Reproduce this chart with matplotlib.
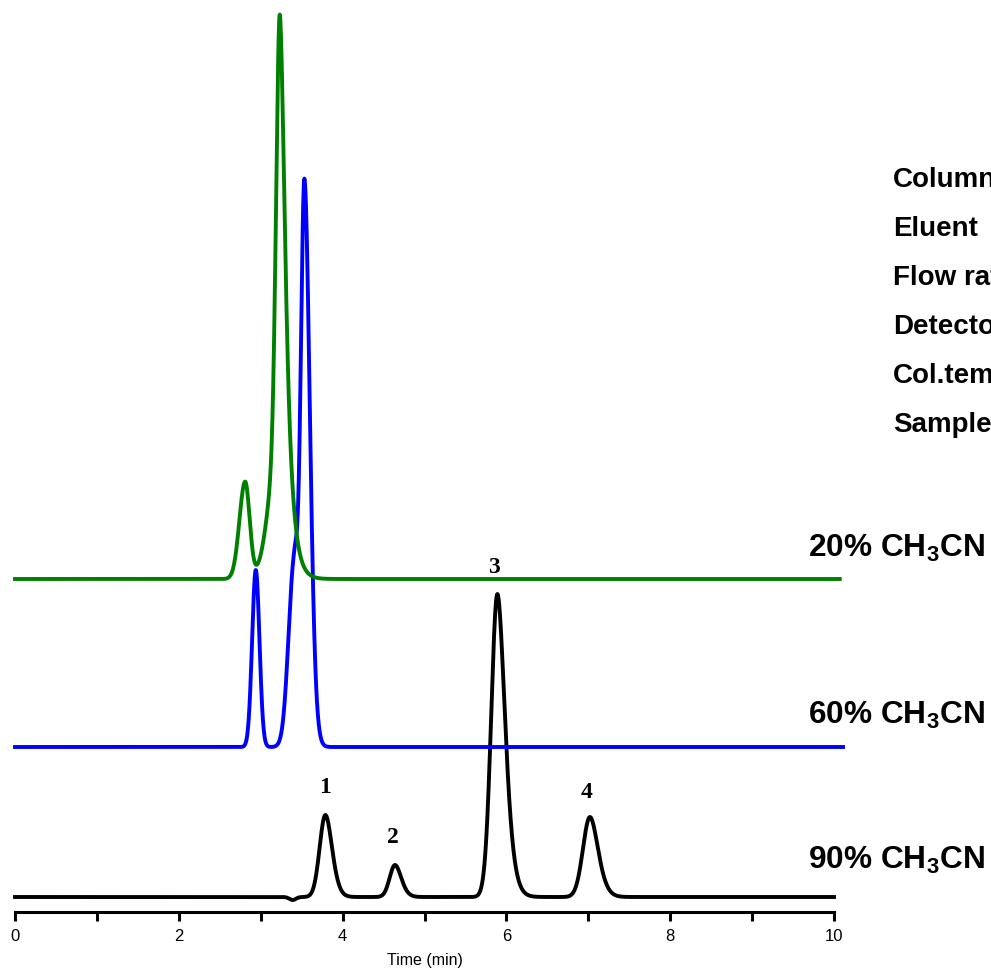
import numpy as np
import matplotlib.pyplot as plt
from matplotlib.ticker import MultipleLocator

plt.rcParams['font.family'] = ['Liberation Sans', 'DejaVu Sans']
plt.rcParams['mathtext.fontset'] = 'custom'
plt.rcParams['mathtext.rm'] = 'Liberation Sans:bold'
plt.rcParams['mathtext.bf'] = 'Liberation Sans:bold'

# runs, bottom to top
runs = ['90% CH$_3$CN', '60% CH$_3$CN', '20% CH$_3$CN']
colors = ['black', 'blue', 'green']
offsets = [15, 165, 333]          # baseline of each trace (a.u.)
run_end = [10.0, 10.11, 10.07]    # last recorded time (min)

# peak tables: retention time (min), height (a.u.), left / right width (min), tailing
rt_90 = [3.39, 3.79, 4.64, 5.89, 7.02]
h_90 = [-3, 82, 32, 303, 80]
wl_90 = [0.04, 0.07, 0.065, 0.075, 0.085]
wr_90 = [0.04, 0.075, 0.07, 0.08, 0.09]
tail_90 = [0, 0.02, 0.02, 0.04, 0.03]

rt_60 = [2.94, 3.41, 3.535]
h_60 = [177, 185, 560]
wl_60 = [0.045, 0.07, 0.045]
wr_60 = [0.045, 0.05, 0.062]
tail_60 = [0, 0, 0.01]

rt_20 = [2.81, 3.22, 3.235]
h_20 = [97, 130, 438]
wl_20 = [0.07, 0.12, 0.045]
wr_20 = [0.055, 0.06, 0.05]
tail_20 = [0, 0, 0.065]

peak_tables = [(rt_90, h_90, wl_90, wr_90, tail_90),
               (rt_60, h_60, wl_60, wr_60, tail_60),
               (rt_20, h_20, wl_20, wr_20, tail_20)]

# peak numbers on the 90% run
peak_ids = ['1', '2', '3', '4']
id_x = [3.785, 4.615, 5.85, 6.98]
id_y = [125, 75, 345, 120]

conditions = ['Column', 'Eluent', 'Flow rate', 'Detector', 'Col.temp', 'Sample']


def peak(t, rt, h, wl, wr, tail):
    d = t - rt
    left = np.exp(-d ** 2 / (2 * wl ** 2))
    right = np.exp(-d ** 2 / (2 * wr ** 2 + tail * np.maximum(d, 0)))
    return h * np.where(d < 0, left, right)


fig = plt.figure(figsize=(9.91, 9.72), dpi=100)
ax = fig.add_axes([15 / 991, 60 / 972, 819 / 991, 912 / 972])

for i in range(len(runs)):
    t = np.linspace(0, run_end[i], 3000)
    y = np.full_like(t, offsets[i], dtype=float)
    for rt, h, wl, wr, tl in zip(*peak_tables[i]):
        y += peak(t, rt, h, wl, wr, tl)
    ax.plot(t, y, color=colors[i], lw=2.8, clip_on=False)

label_y = [43, 188, 355]
for i in range(len(runs)):
    ax.text(9.68, label_y[i], runs[i], fontsize=22.8, fontweight='bold',
            ha='left', va='baseline', clip_on=False)

for s, x, y in zip(peak_ids, id_x, id_y):
    ax.text(x, y, s, fontsize=17, fontweight='heavy', family='Liberation Serif',
            ha='center', va='center')

for k, s in enumerate(conditions):
    fig.text(893 / 991, 1 - (187 + 49 * k) / 972, s, fontsize=20,
             fontweight='bold', ha='left', va='baseline')

ax.set_xlim(0, 10)
ax.set_ylim(0, 912)
for side in ['left', 'right', 'top']:
    ax.spines[side].set_visible(False)
ax.spines['bottom'].set_linewidth(2.2)
ax.set_yticks([])
ax.xaxis.set_major_locator(MultipleLocator(2))
ax.xaxis.set_minor_locator(MultipleLocator(1))
ax.tick_params(axis='x', which='both', direction='out', length=6.5, width=2.2,
               labelsize=12, pad=6)
ax.set_xlabel('Time (min)', fontsize=11.5, labelpad=6)
ax.patch.set_visible(False)

fig.savefig('out.png', dpi=100)
